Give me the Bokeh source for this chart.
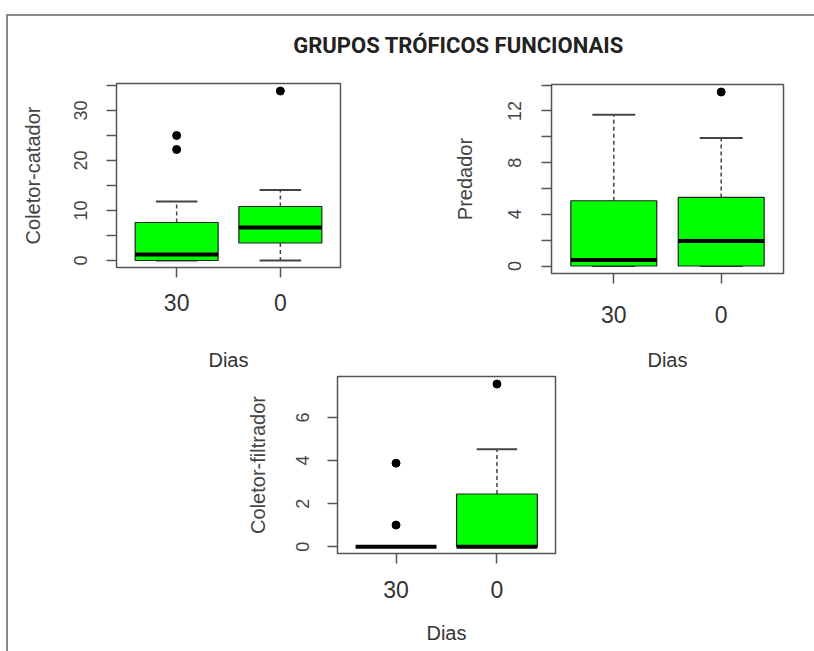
from bokeh.plotting import figure
from bokeh.layouts import column, row
from bokeh.models import Spacer, FixedTicker, ColumnDataSource, Range1d
from bokeh.core.properties import value
from bokeh.embed import file_html
from bokeh.resources import INLINE

# ---------------- data ----------------
TITLE = "GRUPOS TRÓFICOS FUNCIONAIS"
groups = ["30", "0"]
x_title = "Dias"

# Coletor-catador
cc_q1 = [0.0, 3.5]
cc_med = [1.2, 6.6]
cc_q3 = [7.6, 10.8]
cc_lo = [0.0, 0.0]
cc_hi = [11.8, 14.1]
cc_out_grp = ["30", "30", "0"]
cc_out_val = [25.0, 22.2, 33.9]
cc_ticks = [0, 5, 10, 15, 20, 25, 30, 35]
cc_labels = ["0", "", "10", "", "20", "", "30", ""]

# Predador
pr_q1 = [0.0, 0.0]
pr_med = [0.47, 1.94]
pr_q3 = [5.05, 5.31]
pr_lo = [0.0, 0.0]
pr_hi = [11.7, 9.9]
pr_out_grp = ["0"]
pr_out_val = [13.47]
pr_ticks = [0, 2, 4, 6, 8, 10, 12, 14]
pr_labels = ["0", "", "4", "", "8", "", "12", ""]

# Coletor-filtrador
cf_q1 = [0.0, 0.0]
cf_med = [0.0, 0.0]
cf_q3 = [0.0, 2.45]
cf_lo = [0.0, 0.0]
cf_hi = [0.0, 4.52]
cf_out_grp = ["30", "30", "0"]
cf_out_val = [3.88, 1.01, 7.55]
cf_ticks = [0, 2, 4, 6]
cf_labels = ["0", "2", "4", "6"]

GREEN = "#00FF00"
FONT = "Liberation Sans"
GRAY = "#8a8a8a"


def panel(ylabel, q1, med, q3, lo, hi, out_grp, out_val, ticks, labels, yr,
          width, height, mb, x_std, xl_std, y_std, yl_std):
    p = figure(width=width, height=height, output_backend="svg", toolbar_location=None,
               x_range=Range1d(0.42, 2.58), y_range=Range1d(*yr),
               min_border_left=mb[0], min_border_right=mb[1],
               min_border_top=mb[2], min_border_bottom=mb[3])
    p.grid.visible = False
    p.outline_line_color = "#555555"
    p.outline_line_width = 1.5
    p.background_fill_color = "white"
    p.border_fill_color = "white"

    pos = [i + 1 for i in range(len(groups))]
    src = ColumnDataSource(dict(
        x=pos, left=[v - 0.4 for v in pos], right=[v + 0.4 for v in pos],
        cl=[v - 0.2 for v in pos], cr=[v + 0.2 for v in pos],
        q1=q1, med=med, q3=q3, lo=lo, hi=hi))
    # whiskers
    p.segment(x0="x", y0="q3", x1="x", y1="hi", source=src, line_color="#444444",
              line_width=1.5, line_dash="4 3")
    p.segment(x0="x", y0="q1", x1="x", y1="lo", source=src, line_color="#444444",
              line_width=1.5, line_dash="4 3")
    # caps
    p.segment(x0="cl", y0="hi", x1="cr", y1="hi", source=src, line_color="#444444", line_width=2)
    p.segment(x0="cl", y0="lo", x1="cr", y1="lo", source=src, line_color="#444444", line_width=2)
    # boxes
    p.quad(left="left", right="right", bottom="q1", top="q3", source=src,
           fill_color=GREEN, line_color="#222222", line_width=1.2)
    # medians
    p.segment(x0="left", y0="med", x1="right", y1="med", source=src,
              line_color="black", line_width=4)
    # outliers
    ox = [groups.index(g) + 1 for g in out_grp]
    p.scatter(ox, out_val, size=8, color="black")

    # x axis
    xa = p.xaxis[0]
    xa.ticker = FixedTicker(ticks=pos, minor_ticks=[])
    xa.major_label_overrides = {pos[i]: groups[i] for i in range(len(groups))}
    xa.axis_label = x_title
    xa.axis_line_color = None
    xa.major_tick_in = 0
    xa.major_tick_out = 10
    xa.major_tick_line_color = "#555555"
    xa.major_tick_line_width = 1.5
    xa.major_label_text_font = FONT
    xa.major_label_text_font_size = "23px"
    xa.major_label_text_color = "#333333"
    xa.major_label_standoff = x_std
    xa.axis_label_text_font = FONT
    xa.axis_label_text_font_size = "20px"
    xa.axis_label_text_font_style = "normal"
    xa.axis_label_text_color = "#333333"
    xa.axis_label_standoff = xl_std

    ya = p.yaxis[0]
    ya.ticker = FixedTicker(ticks=ticks, minor_ticks=[])
    ya.major_label_overrides = {ticks[i]: labels[i] for i in range(len(ticks))}
    ya.major_label_orientation = "vertical"
    ya.axis_label = ylabel
    ya.axis_line_color = None
    ya.major_tick_in = 0
    ya.major_tick_out = 10
    ya.major_tick_line_color = "#555555"
    ya.major_tick_line_width = 1.5
    ya.major_label_text_font = FONT
    ya.major_label_text_font_size = "18px"
    ya.major_label_text_color = "#444444"
    ya.major_label_standoff = y_std
    ya.axis_label_text_font = FONT
    ya.axis_label_text_font_size = "20px"
    ya.axis_label_text_font_style = "normal"
    ya.axis_label_text_color = "#444444"
    ya.axis_label_standoff = yl_std
    return p


p1 = panel("Coletor-catador", cc_q1, cc_med, cc_q3, cc_lo, cc_hi, cc_out_grp, cc_out_val,
           cc_ticks, cc_labels, (-1.4, 35.4), 412, 315, (108, 80, 23, 108), 16, 35, 20, 27)
p2 = panel("Predador", pr_q1, pr_med, pr_q3, pr_lo, pr_hi, pr_out_grp, pr_out_val,
           pr_ticks, pr_labels, (-0.58, 14.05), 394, 314, (131, 31, 23, 102), 22, 23, 20, 30)
p3 = panel("Coletor-filtrador", cf_q1, cf_med, cf_q3, cf_lo, cf_hi, cf_out_grp, cf_out_val,
           cf_ticks, cf_labels, (-0.31, 7.9), 400, 276, (137, 45, 1, 98), 17, 21, 18, 25)

# title strip
t = figure(width=806, height=44, output_backend="svg", toolbar_location=None,
           x_range=Range1d(0, 806), y_range=Range1d(0, 44),
           min_border=0)
t.axis.visible = False
t.grid.visible = False
t.outline_line_color = None
t.text(x=[450], y=[15], text=[TITLE], text_font=value("Roboto"), text_font_style="bold",
       text_font_size="22px", text_align="center", text_baseline="middle",
       text_color="#222222")

line_style = {"background-color": GRAY}
top_line = row(Spacer(width=6, height=2), Spacer(width=808, height=2, styles=line_style))
top_row = row(p1, column(Spacer(width=394, height=1), p2))
content = column(t, top_row, row(Spacer(width=192, height=276), p3))
body = row(Spacer(width=6, height=635), Spacer(width=2, height=635, styles=line_style), content)
root = column(Spacer(width=814, height=14), top_line, body)

open("out.html", "w").write(file_html(root, INLINE))
